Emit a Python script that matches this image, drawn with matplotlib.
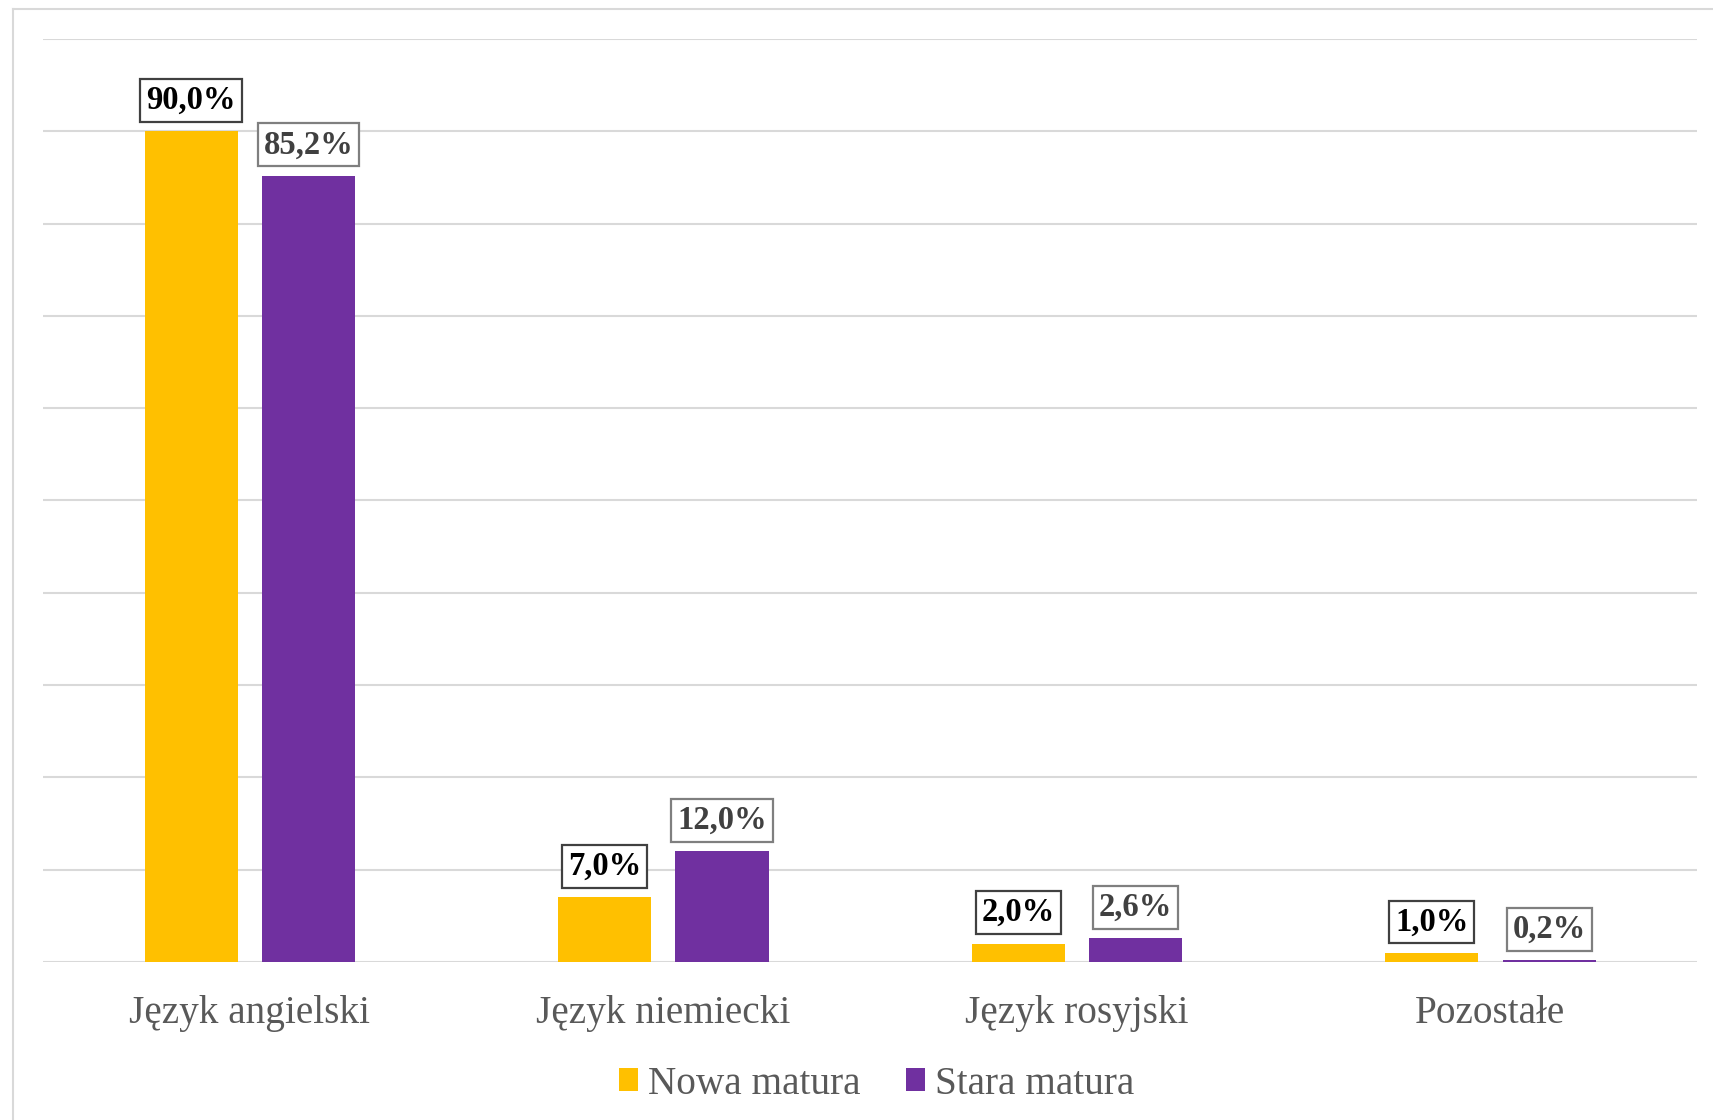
import numpy as np
import matplotlib
matplotlib.use('Agg')
import matplotlib.pyplot as plt
from matplotlib.lines import Line2D

categories = ['Język angielski', 'Język niemiecki', 'Język rosyjski', 'Pozostałe']
series_names = ['Nowa matura', 'Stara matura']
nowa = [90.0, 7.0, 2.0, 1.0]
stara = [85.2, 12.0, 2.6, 0.2]

colors = ['#FFC000', '#7030A0']
label_text_colors = ['#000000', '#404040']
label_edge_colors = ['#404040', '#7F7F7F']

plt.rcParams['font.family'] = ['Liberation Serif', 'DejaVu Serif']

fig = plt.figure(figsize=(17.13, 11.2), dpi=100)
ax = fig.add_axes([0.0251, 0.1411, 0.9656, 0.8241])

x = np.arange(len(categories))
width = 0.225
offset = 0.142

for i, vals in enumerate([nowa, stara]):
    pos = x + (-offset if i == 0 else offset)
    bars = ax.bar(pos, vals, width, color=colors[i], label=series_names[i], zorder=3)
    for b, v in zip(bars, vals):
        ax.annotate(('%.1f%%' % v).replace('.', ','),
                    (b.get_x() + b.get_width() / 2, v),
                    xytext=(0, 11), textcoords='offset points',
                    ha='center', va='bottom', fontsize=23.5, fontweight='bold',
                    color=label_text_colors[i],
                    bbox=dict(boxstyle='square,pad=0.18', fc='white',
                              ec=label_edge_colors[i], lw=1.6),
                    zorder=5)

ax.set_xlim(-0.5, 3.5)
ax.set_ylim(0, 100)
ax.set_yticks(np.arange(0, 101, 10))
ax.yaxis.grid(True, color='#D9D9D9', linewidth=1.5, zorder=0)
ax.set_yticklabels([])
ax.tick_params(axis='y', length=0)
ax.set_xticks(x)
ax.set_xticklabels(categories, fontsize=28.3, color='#595959')
ax.tick_params(axis='x', length=0, pad=24)
for s in ax.spines.values():
    s.set_visible(False)

leg = ax.legend(loc='center', bbox_to_anchor=(0.5117, 1 - 1084 / 1120), bbox_transform=fig.transFigure,
                ncol=2, frameon=False, fontsize=28.3, handlelength=0.5, handleheight=0.5,
                handletextpad=0.25, columnspacing=1.15, labelcolor='#595959')

# chart area border (left and top visible)
fig.add_artist(Line2D([13 / 1713, 13 / 1713], [0, 1 - 9 / 1120], transform=fig.transFigure,
                      color='#D9D9D9', lw=1.5))
fig.add_artist(Line2D([13 / 1713, 1], [1 - 9 / 1120, 1 - 9 / 1120], transform=fig.transFigure,
                      color='#D9D9D9', lw=1.5))

fig.savefig('out.png', dpi=100)
